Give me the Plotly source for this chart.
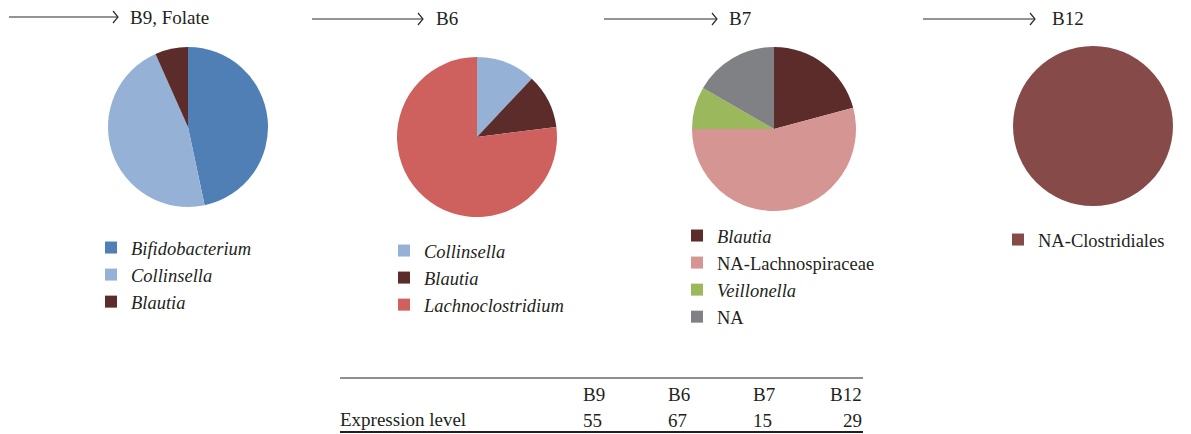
import plotly.graph_objects as go

W, H = 1191, 434

# ---------------- data ----------------
b9_labels = ["<i>Bifidobacterium</i>", "<i>Collinsella</i>", "<i>Blautia</i>"]
b9_values = [7, 7, 1]
b9_colors = ["#4F7FB5", "#95B1D5", "#5B2C2A"]

b6_labels = ["<i>Collinsella</i>", "<i>Blautia</i>", "<i>Lachnoclostridium</i>"]
b6_values = [12, 11, 77]
b6_colors = ["#95B1D5", "#5B2C2A", "#CE605D"]

b7_labels = ["<i>Blautia</i>", "NA-Lachnospiraceae", "<i>Veillonella</i>", "NA"]
b7_values = [5, 13, 2, 4]
b7_colors = ["#5B2C2A", "#D59592", "#9BB85D", "#808184"]

b12_labels = ["NA-Clostridiales"]
b12_values = [1]
b12_colors = ["#864A48"]

titles = ["B9, Folate", "B6", "B7", "B12"]
table_cols = ["B9", "B6", "B7", "B12"]
table_row_label = "Expression level"
expression = [55, 67, 15, 29]

# ---------------- helpers ----------------
def px(x):
    return x / W

def py(y):
    return 1 - y / H

FONT = "Liberation Serif"
TXT = "#231F20"

fig = go.Figure()

pies = [
    (b9_labels, b9_values, b9_colors, (108, 268), (47, 207), "legend", "g1"),
    (b6_labels, b6_values, b6_colors, (397, 557), (57, 217), "legend2", "g2"),
    (b7_labels, b7_values, b7_colors, (692, 856), (47, 211), "legend3", "g3"),
    (b12_labels, b12_values, b12_colors, (1013, 1173), (46, 206), "legend4", "g4"),
]

for labels, values, colors, (x0, x1), (y0, y1), leg, grp in pies:
    fig.add_trace(go.Pie(
        labels=labels, values=values,
        marker=dict(colors=colors, line=dict(width=0)),
        sort=False, direction="clockwise", rotation=0,
        textinfo="none", hoverinfo="label+percent",
        domain=dict(x=[px(x0), px(x1)], y=[py(y1), py(y0)]),
        legend=leg, legendgroup=grp, showlegend=True,
    ))

legend_common = dict(
    font=dict(family=FONT, size=18.5, color=TXT),
    bgcolor="rgba(0,0,0,0)", borderwidth=0,
    xanchor="left", yanchor="top", tracegroupgap=0,
    itemclick=False, itemdoubleclick=False,
)
# legend top-left positions (pixels)
leg_pos = {"legend": (91, 229), "legend2": (384, 232), "legend3": (677, 217), "legend4": (998, 221)}

layout_legends = {}
for k, (lx, ly) in leg_pos.items():
    layout_legends[k] = dict(legend_common, x=px(lx), y=py(ly))

# ---------------- arrows & titles ----------------
shapes = []
annotations = []
arrows = [((9, 118), 17, 128), ((312, 423), 19, 434), ((604, 717), 19, 727), ((923, 1035), 19, 1050)]
for (ax0, ax1), ay, tx in arrows:
    shapes.append(dict(type="line", xref="paper", yref="paper",
                       x0=px(ax0), x1=px(ax1), y0=py(ay), y1=py(ay),
                       line=dict(color="#2B2B2B", width=1.2)))
    shapes.append(dict(type="path", xref="paper", yref="paper",
                       path=f"M {px(ax1-5)},{py(ay-6)} L {px(ax1)},{py(ay)} L {px(ax1-5)},{py(ay+6)}",
                       line=dict(color="#2B2B2B", width=1.2)))
for (arr, title) in zip(arrows, titles):
    (_, ay, tx) = arr
    annotations.append(dict(xref="paper", yref="paper", x=px(tx), y=py(ay),
                            xanchor="left", yanchor="middle", showarrow=False,
                            text=title, font=dict(family=FONT, size=19, color=TXT)))

# ---------------- table ----------------
shapes.append(dict(type="line", xref="paper", yref="paper", x0=px(340), x1=px(863),
                   y0=py(378), y1=py(378), line=dict(color="#231F20", width=1.2)))
shapes.append(dict(type="line", xref="paper", yref="paper", x0=px(340), x1=px(863),
                   y0=py(432), y1=py(432), line=dict(color="#231F20", width=2)))

col_x = [581, 666, 751, 864]
col_anchor = ["left", "left", "left", "right"]
for cx, anc, name, val in zip(col_x, col_anchor, table_cols, expression):
    annotations.append(dict(xref="paper", yref="paper", x=px(cx), y=py(394),
                            xanchor=anc, yanchor="middle", showarrow=False,
                            text=name, font=dict(family=FONT, size=19, color=TXT)))
    annotations.append(dict(xref="paper", yref="paper", x=px(cx), y=py(420),
                            xanchor=anc, yanchor="middle", showarrow=False,
                            text=str(val), font=dict(family=FONT, size=19, color=TXT)))
annotations.append(dict(xref="paper", yref="paper", x=px(338), y=py(419),
                        xanchor="left", yanchor="middle", showarrow=False,
                        text=table_row_label, font=dict(family=FONT, size=19, color=TXT)))

fig.update_layout(
    width=W, height=H,
    margin=dict(l=0, r=0, t=0, b=0),
    paper_bgcolor="white", plot_bgcolor="white",
    shapes=shapes, annotations=annotations,
    **layout_legends,
)

fig.write_html(
    "out.html",
    config={"displayModeBar": False},
    post_script="document.body.style.margin='0';document.body.style.overflow='hidden';",
)
